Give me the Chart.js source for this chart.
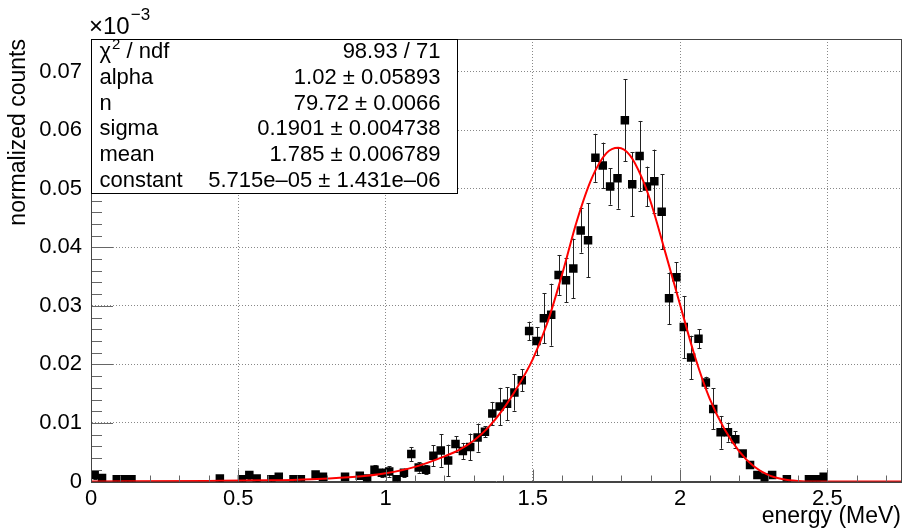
<!DOCTYPE html>
<html>
<head>
<meta charset="utf-8">
<script src="https://cdn.jsdelivr.net/npm/chart.js@4.4.0/dist/chart.umd.min.js"></script>
<style>
  html, body { margin: 0; padding: 0; background: #fff; }
  canvas { display: block; }
</style>
</head>
<body>
<canvas id="energyChart" width="907" height="530"></canvas>
<script>
// bin centres in MeV (bin width 0.025), only the filled bins
const binCenters = [
  0.0125, 0.0375, 0.0875, 0.1125, 0.1375, 0.4375, 0.5125, 0.5375, 0.5625, 0.6125,
  0.6375, 0.6875, 0.7125, 0.7625, 0.7875, 0.8625, 0.9125, 0.9375, 0.9625, 0.9875,
  1.0125, 1.0375, 1.0625, 1.0875, 1.1125, 1.1375, 1.1625, 1.1875, 1.2125, 1.2375,
  1.2625, 1.2875, 1.3125, 1.3375, 1.3625, 1.3875, 1.4125, 1.4375, 1.4625, 1.4875,
  1.5125, 1.5375, 1.5625, 1.5875, 1.6125, 1.6375, 1.6625, 1.6875, 1.7125, 1.7375,
  1.7625, 1.7875, 1.8125, 1.8375, 1.8625, 1.8875, 1.9125, 1.9375, 1.9625, 1.9875,
  2.0125, 2.0375, 2.0625, 2.0875, 2.1125, 2.1375, 2.1625, 2.1875, 2.2125, 2.2375,
  2.2625, 2.2875, 2.3125, 2.3625, 2.4375, 2.4625, 2.4875
];
// normalized counts, in units of 10^-3
const counts = [
  0.0011, 0.0006, 0.0004, 0.0004, 0.0004, 0.0005, 0.0004, 0.0011, 0.0005, 0.0004,
  0.0008, 0.0004, 0.0004, 0.0012, 0.0008, 0.0008, 0.0010, 0.0005, 0.0020, 0.0015,
  0.0017, 0.0004, 0.0015, 0.0047, 0.0024, 0.0020, 0.0044, 0.0053, 0.0036, 0.0064,
  0.0052, 0.0059, 0.0075, 0.0085, 0.0116, 0.0128, 0.0133, 0.0152, 0.0173, 0.0257,
  0.0240, 0.0279, 0.0285, 0.0353, 0.0344, 0.0364, 0.0429, 0.0412, 0.0553, 0.0540,
  0.0504, 0.0518, 0.0617, 0.0508, 0.0556, 0.0504, 0.0513, 0.0461, 0.0313, 0.0349,
  0.0264, 0.0212, 0.0244, 0.0169, 0.0124, 0.0084, 0.0084, 0.0072, 0.0048, 0.0028,
  0.0011, 0.0007, 0.0011, 0.0004, 0.0004, 0.0004, 0.0008
];
const countErrors = [
  0.0006, 0.0004, 0.0004, 0.0004, 0.0004, 0.0004, 0.0004, 0.0006, 0.0004, 0.0004,
  0.0005, 0.0004, 0.0004, 0.0006, 0.0005, 0.0005, 0.0006, 0.0004, 0.0008, 0.0007,
  0.0009, 0.0004, 0.0007, 0.0012, 0.0009, 0.0008, 0.0018, 0.0028, 0.0027, 0.0013,
  0.0014, 0.0023, 0.0024, 0.0009, 0.0020, 0.0032, 0.0028, 0.0031, 0.0019, 0.0016,
  0.0024, 0.0043, 0.0053, 0.0034, 0.0038, 0.0051, 0.0038, 0.0063, 0.0041, 0.0039,
  0.0031, 0.0052, 0.0070, 0.0055, 0.0060, 0.0034, 0.0054, 0.0064, 0.0044, 0.0026,
  0.0053, 0.0037, 0.0016, 0.0010, 0.0035, 0.0028, 0.0016, 0.0014, 0.0006, 0.0005,
  0.0005, 0.0004, 0.0005, 0.0004, 0.0004, 0.0004, 0.0005
];
// fitted crystal ball curve
const fitEnergy = [
  0.00, 0.40, 0.60, 0.75, 0.90, 1.00, 1.10, 1.20, 1.25, 1.30,
  1.35, 1.40, 1.45, 1.50, 1.55, 1.60, 1.65, 1.70, 1.75, 1.79,
  1.83, 1.87, 1.90, 1.95, 2.00, 2.05, 2.10, 2.15, 2.20, 2.25,
  2.30, 2.35, 2.40, 2.45, 2.75
];
const fitValues = [
  0.0000, 0.0001, 0.0002, 0.0004, 0.0008, 0.0014, 0.0025, 0.0043, 0.0054, 0.0070,
  0.0093, 0.0124, 0.0163, 0.0209, 0.0272, 0.0355, 0.0446, 0.0518, 0.0561, 0.0570,
  0.0557, 0.0519, 0.0478, 0.0391, 0.0302, 0.0214, 0.0142, 0.0090, 0.0052, 0.0026,
  0.0011, 0.0004, 0.0001, 0.0000, 0.0000
];
const xTickLabels = ["0", "0.5", "1", "1.5", "2", "2.5"];
const yTickLabels = ["0", "0.01", "0.02", "0.03", "0.04", "0.05", "0.06", "0.07"];

const chiValue = "98.93 / 71";
const statNames = ["alpha", "n", "sigma", "mean", "constant"];
const statValues = [
  "1.02 \u00b1 0.05893",
  "79.72 \u00b1 0.0066",
  "0.1901 \u00b1 0.004738",
  "1.785 \u00b1 0.006789",
  "5.715e\u201305 \u00b1 1.431e\u201306"
];

const FONT = "'Liberation Sans', Arial, Helvetica, sans-serif";

// ROOT look: inner ticks, error bars, frame, stats box, exponent
const rootStyle = {
  id: "rootStyle",
  beforeDatasetsDraw(chart) {
    const ctx = chart.ctx;
    const xs = chart.scales.x, ys = chart.scales.y;
    ctx.save();
    ctx.strokeStyle = "#222";
    ctx.lineWidth = 1;
    for (let i = 0; i < binCenters.length; i++) {
      const px = Math.round(xs.getPixelForValue(binCenters[i])) + 0.5;
      const top = ys.getPixelForValue(counts[i] + countErrors[i]);
      const bot = ys.getPixelForValue(Math.max(0, counts[i] - countErrors[i]));
      ctx.beginPath();
      ctx.moveTo(px, top); ctx.lineTo(px, bot);
      ctx.moveTo(px - 2, Math.round(top) + 0.5); ctx.lineTo(px + 2, Math.round(top) + 0.5);
      ctx.moveTo(px - 2, Math.round(bot) + 0.5); ctx.lineTo(px + 2, Math.round(bot) + 0.5);
      ctx.stroke();
    }
    ctx.restore();
  },
  afterDatasetsDraw(chart) {
    const ctx = chart.ctx;
    const area = chart.chartArea;
    const xs = chart.scales.x, ys = chart.scales.y;
    ctx.save();

    // inner ticks
    ctx.strokeStyle = "#666";
    ctx.lineWidth = 1;
    ctx.beginPath();
    for (let k = 0; k <= 27; k++) {
      const px = Math.round(xs.getPixelForValue(k / 10)) + 0.5;
      const len = k % 5 === 0 ? 12 : 6;
      ctx.moveTo(px, area.bottom); ctx.lineTo(px, area.bottom - len);
    }
    for (let k = 0; k <= 37; k++) {
      const py = Math.round(ys.getPixelForValue(k * 0.002)) + 0.5;
      const len = k % 5 === 0 ? 22 : 11;
      ctx.moveTo(area.left, py); ctx.lineTo(area.left + len, py);
    }
    ctx.stroke();

    // frame
    ctx.strokeStyle = "#444";
    ctx.strokeRect(Math.round(area.left) + 0.5, Math.round(area.top) + 0.5,
      Math.round(area.right - area.left), Math.round(area.bottom - area.top));

    // stats box
    const bx = Math.round(area.left) + 0.5, by = Math.round(area.top) + 0.5;
    const bw = 366, bh = 154;
    ctx.fillStyle = "#fff";
    ctx.fillRect(bx, by, bw, bh);
    ctx.strokeStyle = "#000";
    ctx.strokeRect(bx, by, bw, bh);
    const rowH = bh / 6;
    const labelX = bx + 8, valueX = bx + bw - 17;
    ctx.fillStyle = "#000";
    ctx.textBaseline = "middle";
    ctx.font = "22px " + FONT;
    // chi2 row
    let cy = by + rowH * 0.5;
    ctx.textAlign = "left";
    ctx.fillText("\u03c7", labelX, cy);
    let w = ctx.measureText("\u03c7").width;
    ctx.font = "15px " + FONT;
    ctx.fillText("2", labelX + w + 1, cy - 7);
    let w2 = ctx.measureText("2").width;
    ctx.font = "22px " + FONT;
    ctx.fillText(" / ndf", labelX + w + w2 + 1, cy);
    ctx.textAlign = "right";
    ctx.fillText(chiValue, valueX, cy);
    for (let i = 0; i < statNames.length; i++) {
      cy = by + rowH * (i + 1.5);
      ctx.textAlign = "left";
      ctx.fillText(statNames[i], labelX, cy);
      ctx.textAlign = "right";
      ctx.fillText(statValues[i], valueX, cy);
    }

    // axis exponent
    ctx.textAlign = "left";
    ctx.textBaseline = "alphabetic";
    ctx.font = "24px " + FONT;
    ctx.fillText("\u00d710", area.left - 2, 34);
    w = ctx.measureText("\u00d710").width;
    ctx.font = "17px " + FONT;
    ctx.fillText("\u22123", area.left - 1 + w, 20);
    ctx.restore();
  }
};

const ctx = document.getElementById("energyChart").getContext("2d");

new Chart(ctx, {
  type: "scatter",
  data: {
    datasets: [
      {
        type: "line",
        label: "fit",
        data: fitEnergy.map((e, i) => ({ x: e, y: fitValues[i] })),
        borderColor: "#ff0000",
        borderWidth: 2,
        pointRadius: 0,
        fill: false,
        cubicInterpolationMode: "monotone",
        order: 0
      },
      {
        label: "data",
        data: binCenters.map((e, i) => ({ x: e, y: counts[i] })),
        pointStyle: "rect",
        pointRadius: 6,
        backgroundColor: "#000",
        borderColor: "#000",
        borderWidth: 0,
        order: 1
      }
    ]
  },
  options: {
    responsive: false,
    animation: false,
    events: [],
    layout: { padding: { left: 0, right: 5, top: 39, bottom: 0 } },
    plugins: { legend: { display: false }, tooltip: { enabled: false } },
    scales: {
      x: {
        type: "linear",
        min: 0,
        max: 2.75,
        afterFit(scale) { scale.height = 48.5; },
        grid: { color: "#888", drawTicks: false },
        border: { color: "#444", dash: [1, 2] },
        ticks: {
          stepSize: 0.5,
          includeBounds: false,
          autoSkip: false,
          maxRotation: 0,
          padding: 4,
          color: "#000",
          font: { family: FONT, size: 22 },
          callback: (v, i) => xTickLabels[i]
        },
        title: {
          display: true,
          text: "energy (MeV)",
          align: "end",
          color: "#000",
          font: { family: FONT, size: 23 },
          padding: { top: 0, bottom: 0 }
        }
      },
      y: {
        type: "linear",
        min: 0,
        max: 0.0756,
        afterFit(scale) { scale.width = 91; },
        grid: { color: "#888", drawTicks: false },
        border: { color: "#444", dash: [1, 2] },
        ticks: {
          stepSize: 0.01,
          includeBounds: false,
          autoSkip: false,
          padding: 9,
          color: "#000",
          font: { family: FONT, size: 22 },
          callback: (v, i) => yTickLabels[i]
        },
        title: {
          display: true,
          text: "normalized counts",
          align: "end",
          color: "#000",
          font: { family: FONT, size: 23 },
          padding: { top: 5, bottom: 0 }
        }
      }
    }
  },
  plugins: [rootStyle]
});
</script>
</body>
</html>
